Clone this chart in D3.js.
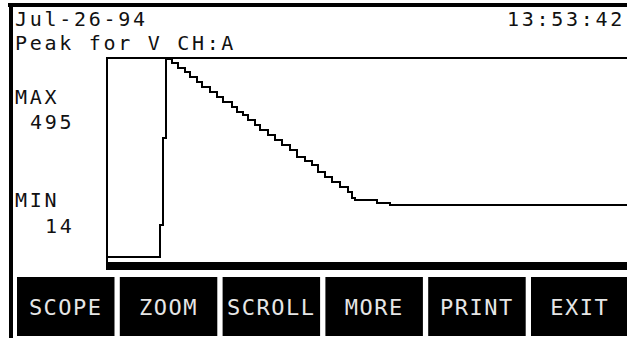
<!DOCTYPE html>
<html>
<head>
<meta charset="utf-8">
<script src="https://cdn.jsdelivr.net/npm/d3@7/dist/d3.min.js"></script>
<style>
  html, body { margin: 0; padding: 0; background: #fff; }
  svg { display: block; }
  text { font-family: "DejaVu Sans Mono", "Liberation Mono", monospace; fill: #111; }
</style>
</head>
<body>
<svg id="chart" width="627" height="338"></svg>
<script>
// ---- data ----
const dateLabel = "Jul-26-94";
const timeLabel = "13:53:42";
const titleLabel = "Peak for V CH:A";
const maxValue = 495;
const minValue = 14;
// sample index (0..520) where the reading changes, and the reading (V)
const samples = [0, 53, 56, 59, 65, 71, 78, 83, 90, 95, 103, 110, 116, 125, 130, 136, 141, 148, 153, 161, 168, 175, 183, 190, 198, 205, 211, 218, 225, 233, 241, 245, 248, 270, 283, 520];
const volts   = [14, 92, 303, 495, 485, 472, 464, 452, 440, 428, 416, 403, 391, 379, 367, 359, 347, 335, 323, 310, 298, 286, 274, 258, 246, 237, 221, 209, 197, 185, 173, 157, 152, 144, 140, 140];
const buttons = ["SCOPE", "ZOOM", "SCROLL", "MORE", "PRINT", "EXIT"];

// ---- layout ----
const W = 627, H = 338;
const svg = d3.select("#chart");
const plot = { left: 107, right: 627, top: 59, bottom: 257 };

const x = d3.scaleLinear().domain([0, 520]).range([plot.left, plot.right]);
const y = d3.scaleLinear().domain([minValue, maxValue]).range([plot.bottom, plot.top]);

// outer black border (top + left)
svg.append("rect").attr("x", 8).attr("y", 3).attr("width", W - 8).attr("height", 4).attr("fill", "#000");
svg.append("rect").attr("x", 9).attr("y", 3).attr("width", 4).attr("height", H - 3).attr("fill", "#000");

const txt = (s, tx, ty) => svg.append("text")
  .attr("x", tx).attr("y", ty)
  .attr("font-size", 20)
  .attr("letter-spacing", 2.7)
  .attr("xml:space", "preserve")
  .text(s);

txt(dateLabel, 15, 26);
txt(timeLabel, 507, 26);
txt(titleLabel, 15, 50);

txt("MAX", 15, 104);
txt(String(maxValue), 30, 129);
txt("MIN", 15, 207);
txt(String(minValue), 45, 233);

// plot frame
svg.append("line").attr("x1", 106).attr("x2", W).attr("y1", 58).attr("y2", 58)
  .attr("stroke", "#000").attr("stroke-width", 2);
svg.append("line").attr("x1", 107).attr("x2", 107).attr("y1", 57).attr("y2", 266)
  .attr("stroke", "#000").attr("stroke-width", 2);
svg.append("rect").attr("x", 106).attr("y", 262).attr("width", W - 106).attr("height", 8).attr("fill", "#000");

// trace
const pts = samples.map((s, i) => [s, volts[i]]);
const line = d3.line().x(d => x(d[0])).y(d => y(d[1])).curve(d3.curveStepAfter);
svg.append("path").datum(pts).attr("d", line)
  .attr("fill", "none").attr("stroke", "#000").attr("stroke-width", 2)
  .attr("shape-rendering", "crispEdges");

// soft-key buttons
const bx = d3.scaleBand().domain(buttons).range([17, 628.5]).paddingInner(0.0516).paddingOuter(0);
const g = svg.selectAll("g.btn").data(buttons).join("g").attr("class", "btn");
g.append("rect")
  .attr("x", d => bx(d)).attr("y", 277)
  .attr("width", bx.bandwidth()).attr("height", 59)
  .attr("fill", "#000");
g.append("text")
  .attr("x", d => bx(d) + bx.bandwidth() / 2).attr("y", 315)
  .attr("text-anchor", "middle")
  .attr("font-size", 22).attr("letter-spacing", 1.5)
  .style("fill", "#e6e6e6")
  .text(d => d);
</script>
</body>
</html>
